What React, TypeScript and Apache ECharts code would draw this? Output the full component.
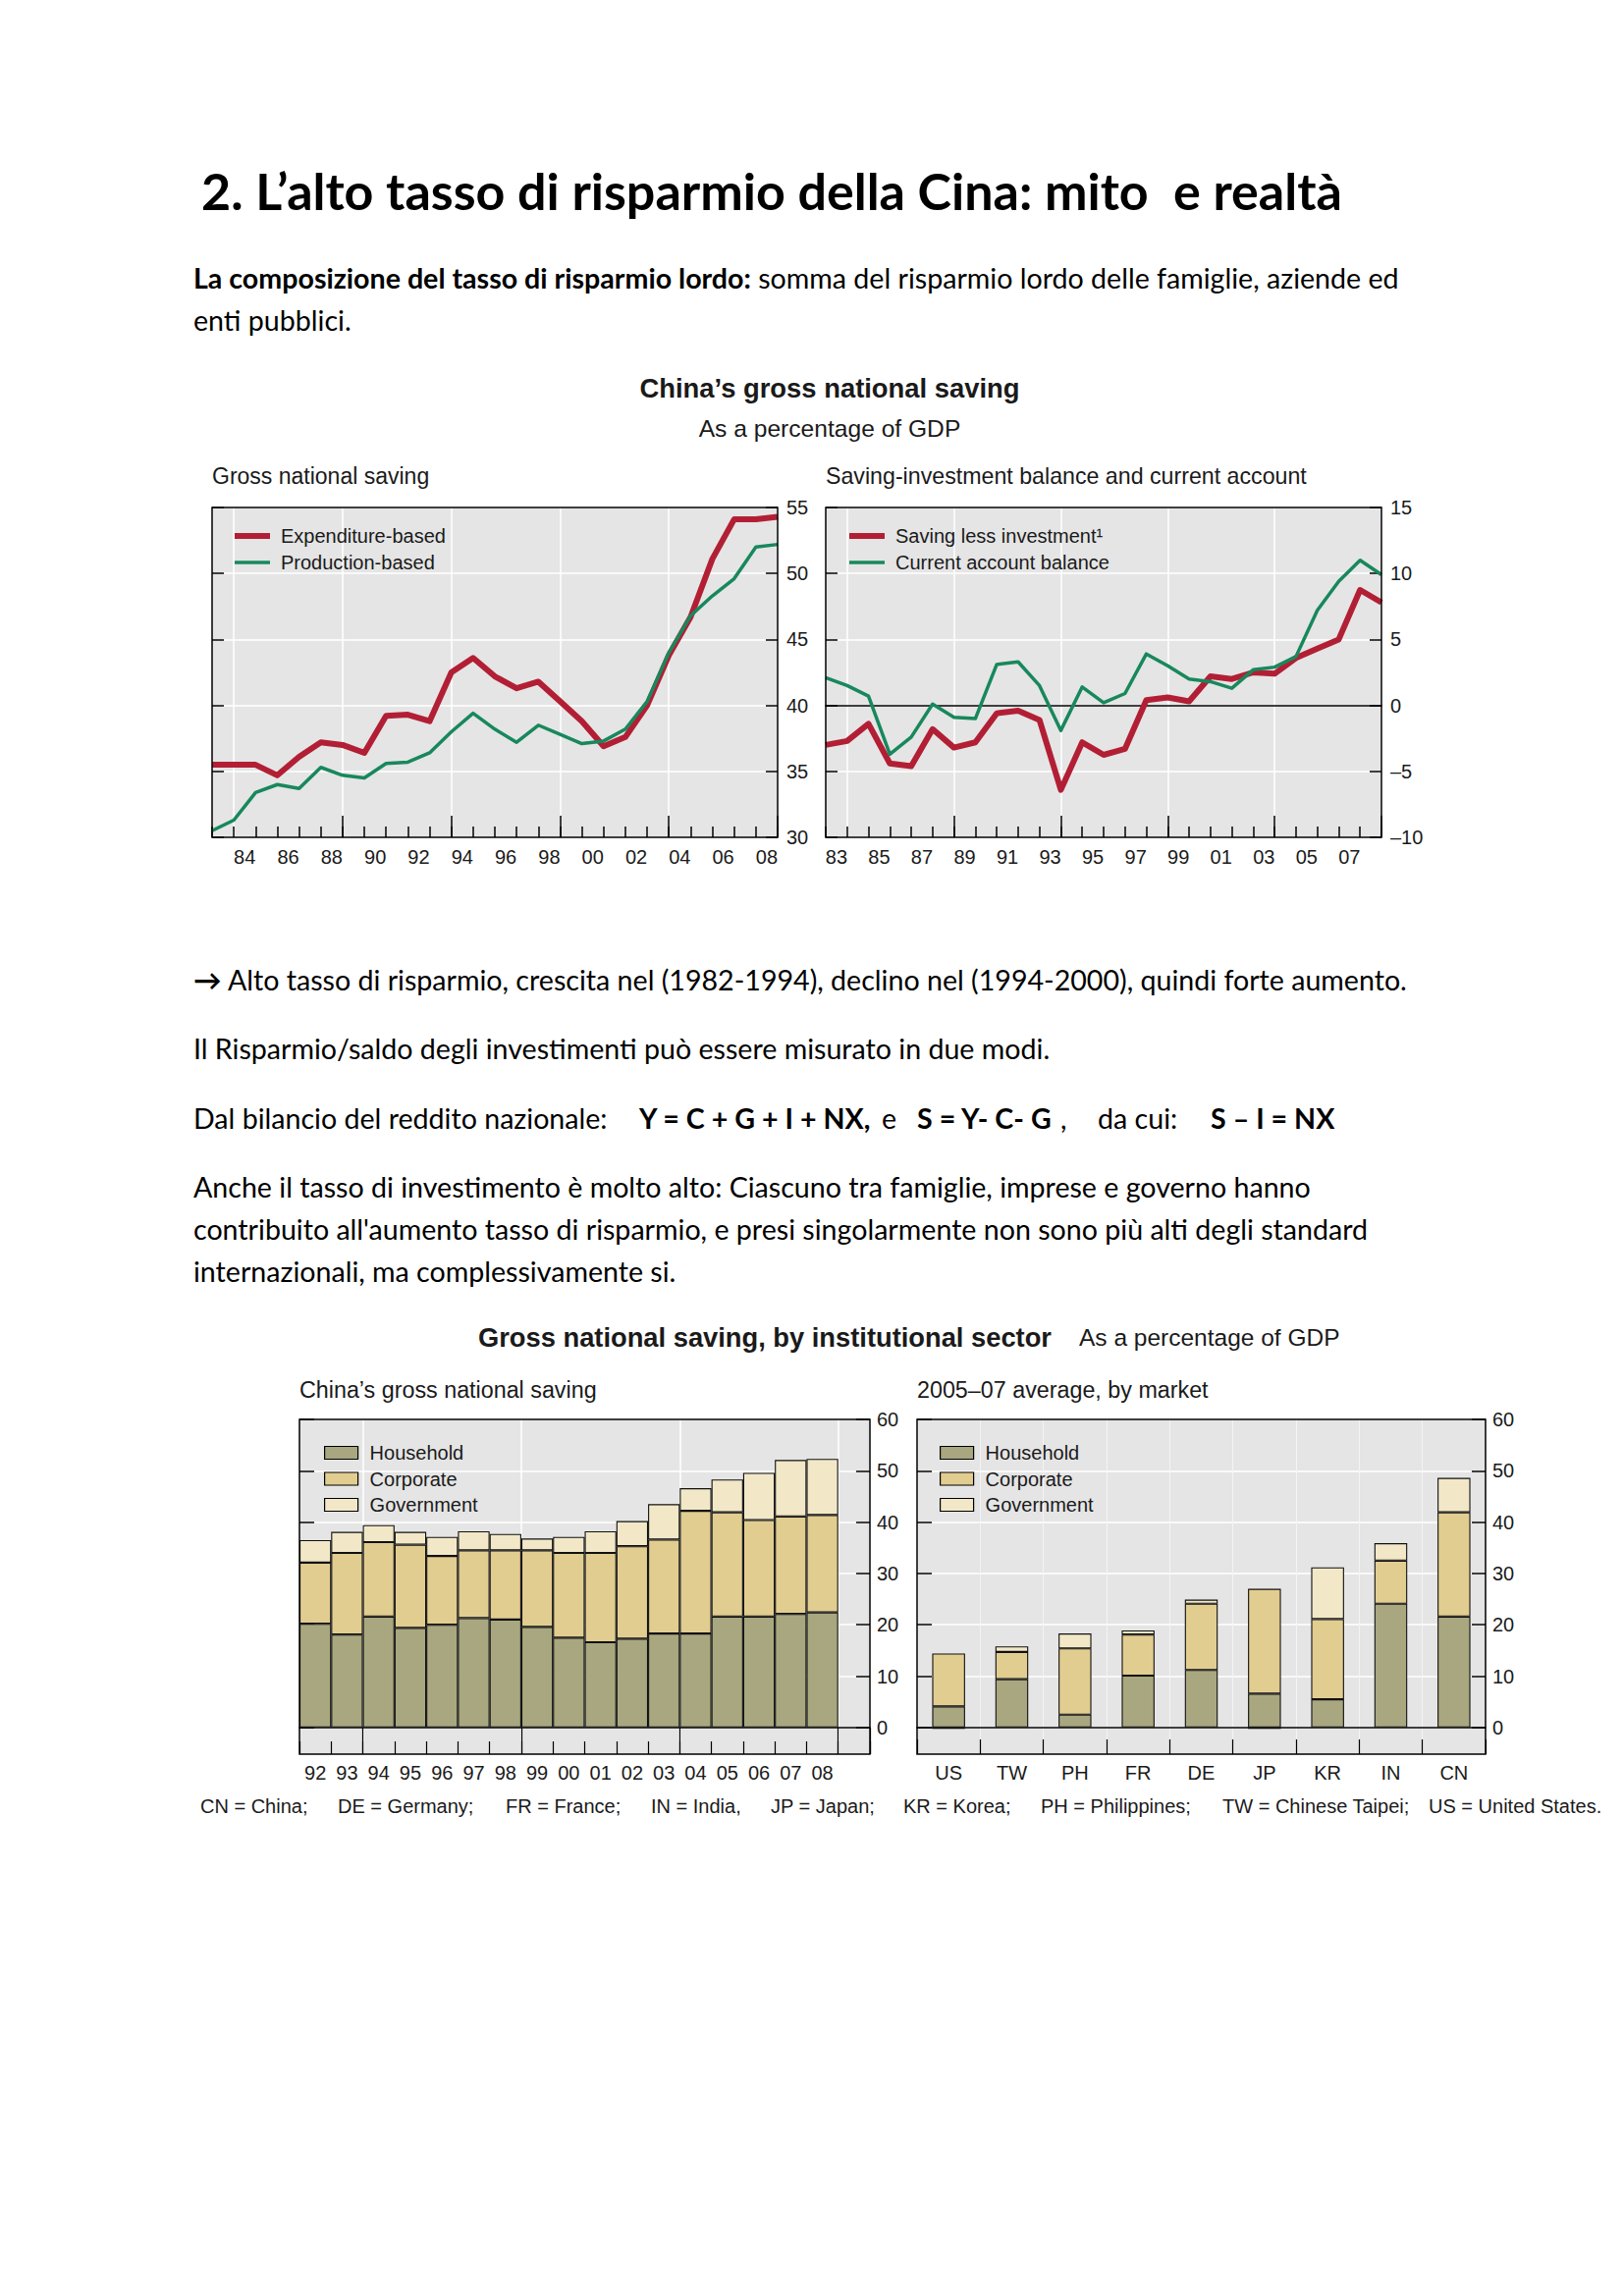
import React, { useEffect, useRef } from 'react';
import * as echarts from 'echarts';

// ---------- DATA ----------
const lineYears = [1982, 1983, 1984, 1985, 1986, 1987, 1988, 1989, 1990, 1991, 1992, 1993, 1994, 1995, 1996, 1997, 1998, 1999, 2000, 2001, 2002, 2003, 2004, 2005, 2006, 2007, 2008];
const yearBands = ['83', '84', '85', '86', '87', '88', '89', '90', '91', '92', '93', '94', '95', '96', '97', '98', '99', '00', '01', '02', '03', '04', '05', '06', '07', '08'];

const expenditureBased = [35.5, 35.5, 35.5, 34.7, 36.1, 37.2, 37.0, 36.4, 39.2, 39.3, 38.8, 42.5, 43.6, 42.2, 41.3, 41.8, 40.3, 38.8, 36.9, 37.6, 40.0, 43.8, 46.7, 51.1, 54.1, 54.1, 54.3];
const productionBased = [30.5, 31.3, 33.4, 34.0, 33.7, 35.3, 34.7, 34.5, 35.6, 35.7, 36.4, 38.0, 39.4, 38.2, 37.2, 38.5, 37.8, 37.1, 37.3, 38.2, 40.3, 44.0, 46.8, 48.3, 49.6, 52.0, 52.2];

const savingLessInvestment = [-3.0, -2.7, -1.4, -4.4, -4.6, -1.8, -3.2, -2.8, -0.6, -0.4, -1.1, -6.4, -2.8, -3.75, -3.3, 0.4, 0.6, 0.3, 2.2, 2.0, 2.5, 2.4, 3.6, 4.3, 5.0, 8.75, 7.8];
const currentAccount = [2.1, 1.5, 0.7, -3.7, -2.4, 0.1, -0.9, -1.0, 3.1, 3.3, 1.5, -1.9, 1.4, 0.2, 0.9, 3.9, 3.0, 2.0, 1.8, 1.3, 2.7, 2.9, 3.7, 7.2, 9.4, 11.0, 9.9];

const barYears = ['92', '93', '94', '95', '96', '97', '98', '99', '00', '01', '02', '03', '04', '05', '06', '07', '08', ''];
const householdCN = [20.2, 18.1, 21.6, 19.4, 20.0, 21.3, 21.0, 19.6, 17.5, 16.6, 17.3, 18.3, 18.3, 21.6, 21.6, 22.1, 22.4];
const corporateCN = [11.9, 15.9, 14.5, 16.2, 13.4, 13.2, 13.5, 14.9, 16.5, 17.4, 18.0, 18.3, 23.9, 20.3, 18.8, 19.0, 19.0];
const governmentCN = [4.4, 4.1, 3.3, 2.5, 3.7, 3.7, 3.2, 2.3, 3.1, 4.2, 4.9, 6.9, 4.4, 6.4, 9.2, 11.0, 10.9];

const markets = ['US', 'TW', 'PH', 'FR', 'DE', 'JP', 'KR', 'IN', 'CN'];
const householdMk = [4.1, 9.4, 2.5, 10.1, 11.2, 6.6, 5.5, 24.1, 21.6];
const corporateMk = [10.3, 5.3, 12.9, 8.0, 12.9, 20.4, 15.6, 8.4, 20.3];
const governmentMk = [-0.3, 1.1, 2.9, 0.8, 0.8, -0.3, 10.1, 3.4, 6.7];

const barTicks = [0, 10, 20, 30, 40, 50, 60];

// ---------- STYLE ----------
const CF = "'Liberation Sans', Arial, sans-serif";
const BF = "Lato, 'Open Sans', sans-serif";
const INK = '#1a1a1a';
const PLOT_BG = '#e5e5e5';
const RED = '#b21f35';
const GREEN = '#18885c';
const C_HH = '#a8a77f';
const C_CORP = '#e2cd90';
const C_GOV = '#f2e8c8';
const BODY_SIZE = 28.6;

const boxes = [
  { left: 216, top: 517, width: 576, height: 336 },
  { left: 841, top: 517, width: 566, height: 336 },
  { left: 305, top: 1446, width: 581, height: 341 },
  { left: 934, top: 1446, width: 579, height: 341 },
];

const tickLine = { color: '#000', width: 1.5 };
const whiteLine = { color: '#ffffff', width: 1.5 };
const noLine = { show: false, onZero: false };

function catAxis(grid: number, data: string[], extra: any) {
  return {
    type: 'category', gridIndex: grid, data, boundaryGap: true, position: 'bottom',
    axisLine: noLine,
    axisTick: { show: false },
    axisLabel: { show: false },
    splitLine: { show: false },
    ...extra,
  };
}

function valY(grid: number, pos: string, min: number, max: number, extra: any) {
  return {
    type: 'value', gridIndex: grid, position: pos, min, max,
    axisLine: noLine,
    axisTick: { show: true, inside: true, length: 12, lineStyle: tickLine },
    axisLabel: { show: false },
    splitLine: { show: false },
    ...extra,
  };
}

const lbl = { fontSize: 20, color: INK, fontFamily: CF };

function text(x: number, y: number, t: string, o: any = {}, props: any = {}) {
  return {
    type: 'text', x, y, silent: true, ...props,
    style: { text: t, fontFamily: CF, fontSize: 20, fill: INK, verticalAlign: 'middle', align: 'left', ...o },
  };
}

function body(x: number, y: number, t: string, o: any = {}) {
  return text(x, y, t, {
    fontFamily: BF, fontSize: BODY_SIZE, fill: '#000',
    rich: { b: { fontFamily: BF, fontSize: BODY_SIZE, fontWeight: 'bold', fill: '#000' } },
    ...o,
  });
}

function buildOption(): any {
  const grid = boxes.map((b) => ({ ...b, show: true, backgroundColor: PLOT_BG, borderWidth: 0, containLabel: false, outerBoundsMode: 'none' }));

  const xAxis = [
    // 0 top-left: labels + short ticks + vertical grid
    catAxis(0, yearBands, {
      axisTick: { show: true, inside: true, length: 11, interval: 0, lineStyle: tickLine },
      axisLabel: { ...lbl, interval: (i: number) => i % 2 === 1, margin: 10 },
      splitLine: { show: true, interval: (i: number) => i % 5 === 1, lineStyle: whiteLine },
    }),
    // 1 top-left long ticks
    catAxis(0, yearBands, {
      axisTick: { show: true, inside: true, length: 22, interval: (i: number) => i > 1 && i % 5 === 1, lineStyle: tickLine },
    }),
    // 2 top-left data axis
    { type: 'value', gridIndex: 0, min: 1982, max: 2008, show: false, axisLine: { onZero: false } },
    // 3 top-right labels + short ticks
    catAxis(1, yearBands, {
      axisTick: { show: true, inside: true, length: 11, interval: 0, lineStyle: tickLine },
      axisLabel: { ...lbl, interval: (i: number) => i % 2 === 0, margin: 10 },
      splitLine: { show: true, interval: (i: number) => i % 5 === 1, lineStyle: whiteLine },
    }),
    // 4 top-right long ticks
    catAxis(1, yearBands, {
      axisTick: { show: true, inside: true, length: 22, interval: (i: number) => i > 1 && i % 5 === 1, lineStyle: tickLine },
    }),
    // 5 top-right data axis with zero line
    {
      type: 'value', gridIndex: 1, min: 1982, max: 2008,
      axisLine: { show: true, onZero: true, lineStyle: { color: '#000', width: 1.5 } },
      axisTick: { show: false }, axisLabel: { show: false }, splitLine: { show: false },
    },
    // 6 bottom-left labels + short ticks
    catAxis(2, barYears, {
      axisTick: { show: true, inside: true, length: 13, interval: 0, lineStyle: { color: '#000', width: 1.2 } },
      axisLabel: { ...lbl, interval: 0, margin: 9 },
    }),
    // 7 bottom-left long ticks + vertical grid
    catAxis(2, barYears, {
      axisTick: { show: true, inside: true, length: 27, interval: (i: number) => i % 5 === 2, lineStyle: { color: '#000', width: 1.2 } },
      splitLine: { show: true, interval: (i: number) => i % 5 === 2, lineStyle: whiteLine },
    }),
    // 8 bottom-left zero line
    catAxis(2, barYears, { axisLine: { show: true, onZero: true, lineStyle: { color: '#000', width: 1.5 } } }),
    // 9 bottom-right labels + ticks + grid
    catAxis(3, markets, {
      axisTick: { show: true, inside: true, length: 15, interval: 0, lineStyle: { color: '#000', width: 1.2 } },
      axisLabel: { ...lbl, interval: 0, margin: 9 },
      splitLine: { show: true, interval: 0, lineStyle: { color: '#f4f4f4', width: 1 } },
    }),
    // 10 bottom-right zero line
    catAxis(3, markets, { axisLine: { show: true, onZero: true, lineStyle: { color: '#000', width: 1.5 } } }),
  ];

  const dash = (v: number) => (v < 0 ? '\u2013' + Math.abs(v) : String(v));

  const yAxis = [
    valY(0, 'right', 30, 55, { interval: 5, axisLabel: { ...lbl, margin: 9 }, splitLine: { show: true, lineStyle: whiteLine } }),
    valY(0, 'left', 30, 55, { interval: 5 }),
    valY(1, 'right', -10, 15, { interval: 5, axisLabel: { ...lbl, margin: 9, formatter: dash }, splitLine: { show: true, lineStyle: whiteLine } }),
    valY(1, 'left', -10, 15, { interval: 5 }),
    valY(2, 'right', -5.2, 60, {
      axisTick: { show: true, inside: true, length: 14, customValues: barTicks, lineStyle: tickLine },
      axisLabel: { ...lbl, margin: 7, customValues: barTicks },
      splitLine: { show: true, lineStyle: whiteLine },
    }),
    valY(2, 'left', -5.2, 60, { axisTick: { show: true, inside: true, length: 15, customValues: barTicks, lineStyle: tickLine } }),
    valY(3, 'right', -5.2, 60, {
      axisTick: { show: true, inside: true, length: 14, customValues: barTicks, lineStyle: tickLine },
      axisLabel: { ...lbl, margin: 7, customValues: barTicks },
      splitLine: { show: true, lineStyle: whiteLine },
    }),
    valY(3, 'left', -5.2, 60, { axisTick: { show: true, inside: true, length: 15, customValues: barTicks, lineStyle: tickLine } }),
  ];

  const pair = (arr: number[]) => lineYears.map((y, i) => [y, arr[i]]);
  const lineS = (name: string, xi: number, yi: number, arr: number[], color: string, w: number, z: number) => ({
    type: 'line', name, xAxisIndex: xi, yAxisIndex: yi, data: pair(arr), symbol: 'none', showSymbol: false,
    lineStyle: { color, width: w, join: 'round' }, itemStyle: { color }, z, silent: true,
  });
  const barS = (name: string, xi: number, yi: number, stack: string, data: number[], color: string, gap: string) => ({
    type: 'bar', name, xAxisIndex: xi, yAxisIndex: yi, stack, data, barCategoryGap: gap,
    itemStyle: { color, borderColor: '#111', borderWidth: 1.1 }, silent: true,
  });

  const series = [
    lineS('Expenditure-based', 2, 0, expenditureBased, RED, 6, 3),
    lineS('Production-based', 2, 0, productionBased, GREEN, 3.5, 4),
    lineS('Saving less investment\u00b9', 5, 2, savingLessInvestment, RED, 6, 3),
    lineS('Current account balance', 5, 2, currentAccount, GREEN, 3.5, 4),
    barS('Household', 6, 4, 'cn', householdCN, C_HH, '0%'),
    barS('Corporate', 6, 4, 'cn', corporateCN, C_CORP, '0%'),
    barS('Government', 6, 4, 'cn', governmentCN, C_GOV, '0%'),
    barS('Household', 9, 6, 'mk', householdMk, C_HH, '48%'),
    barS('Corporate', 9, 6, 'mk', corporateMk, C_CORP, '48%'),
    barS('Government', 9, 6, 'mk', governmentMk, C_GOV, '48%'),
  ];

  const lineLegend = (left: number, centerY: number, name: string, thick: number) => ({
    left, top: centerY - 11, padding: 0, orient: 'vertical', itemWidth: 36, itemHeight: thick, selectedMode: false,
    icon: 'rect', itemStyle: { borderWidth: 0 },
    data: [name],
    textStyle: { fontSize: 20, color: INK, fontFamily: CF, padding: [0, 0, 0, 6] },
  });
  const barLegend = (left: number) => ({
    left, top: 1470, padding: 0, orient: 'vertical', itemWidth: 34, itemHeight: 13, itemGap: 6.5, selectedMode: false, icon: 'rect',
    itemStyle: { borderColor: '#000', borderWidth: 1.2 },
    data: ['Household', 'Corporate', 'Government'],
    textStyle: { fontSize: 20, color: INK, fontFamily: CF, padding: [0, 0, 0, 7] },
  });

  const frames = boxes.map((b) => ({
    type: 'rect', silent: true, z: 100,
    shape: { x: b.left, y: b.top, width: b.width, height: b.height },
    style: { fill: 'none', stroke: '#000', lineWidth: 1.5 },
  }));

  const graphic = [
    ...frames,
    text(205, 194, '2. L\u2019alto tasso di risparmio della Cina: mito  e realt\u00e0', { fontFamily: BF, fontSize: 52, fontWeight: 'bold', fill: '#000' }),
    body(197, 283, '{b|La composizione del tasso di risparmio lordo:} somma del risparmio lordo delle famiglie, aziende ed'),
    body(197, 326, 'enti pubblici.'),
    body(197, 998, '{b|\u2192} Alto tasso di risparmio, crescita nel (1982-1994), declino nel (1994-2000), quindi forte aumento.'),
    body(197, 1068, 'Il Risparmio/saldo degli investimenti pu\u00f2 essere misurato in due modi.'),
    body(197, 1139, 'Dal bilancio del reddito nazionale:'),
    body(651, 1139, 'Y = C + G + I + NX,', { fontWeight: 'bold' }),
    body(898, 1139, 'e'),
    body(934, 1139, 'S = Y- C- G', { fontWeight: 'bold' }),
    body(1080, 1139, ','),
    body(1118, 1139, 'da cui:'),
    body(1233, 1139, 'S \u2013 I = NX', { fontWeight: 'bold' }),
    body(197, 1209, 'Anche il tasso di investimento \u00e8 molto alto: Ciascuno tra famiglie, imprese e governo hanno'),
    body(197, 1252, 'contribuito all\'aumento tasso di risparmio, e presi singolarmente non sono pi\u00f9 alti degli standard'),
    body(197, 1295, 'internazionali, ma complessivamente si.'),
    text(845, 395, 'China\u2019s gross national saving', { fontSize: 27.4, fontWeight: 'bold', align: 'center' }),
    text(845, 436, 'As a percentage of GDP', { fontSize: 24.6, align: 'center' }),
    text(216, 485, 'Gross national saving', { fontSize: 23 }),
    text(841, 485, 'Saving-investment balance and current account', { fontSize: 23.2 }),
    text(487, 1362, 'Gross national saving, by institutional sector', { fontSize: 27.3, fontWeight: 'bold' }),
    text(1099, 1362, 'As a percentage of GDP', { fontSize: 24.5 }),
    text(305, 1416, 'China\u2019s gross national saving', { fontSize: 23.3 }),
    text(934, 1416, '2005\u201307 average, by market', { fontSize: 23.3 }),
    text(204, 1840, 'CN = China;'),
    text(344, 1840, 'DE = Germany;'),
    text(515, 1840, 'FR = France;'),
    text(663, 1840, 'IN = India,'),
    text(785, 1840, 'JP = Japan;'),
    text(920, 1840, 'KR = Korea;'),
    text(1060, 1840, 'PH = Philippines;'),
    text(1245, 1840, 'TW = Chinese Taipei;'),
    text(1455, 1840, 'US = United States.'),
  ];

  return {
    animation: false,
    backgroundColor: '#ffffff',
    textStyle: { fontFamily: CF },
    grid,
    xAxis,
    yAxis,
    series,
    legend: [
      lineLegend(239, 547, 'Expenditure-based', 6),
      lineLegend(239, 574, 'Production-based', 3.5),
      lineLegend(865, 547, 'Saving less investment\u00b9', 6),
      lineLegend(865, 574, 'Current account balance', 3.5),
      barLegend(330),
      barLegend(957),
    ],
    graphic,
  };
}

export default function App() {
  const ref = useRef<HTMLDivElement>(null);
  useEffect(() => {
    document.body.style.margin = '0';
    const chart = echarts.init(ref.current as HTMLDivElement, null, { renderer: 'svg' });
    chart.setOption(buildOption());
    return () => chart.dispose();
  }, []);
  return <div ref={ref} style={{ width: 1653, height: 2339, background: '#fff' }} />;
}
